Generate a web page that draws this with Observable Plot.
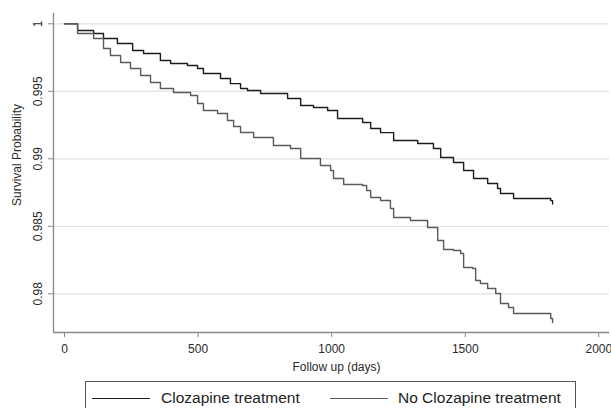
<!DOCTYPE html>
<html>
<head>
<meta charset="utf-8">
<script src="https://cdn.jsdelivr.net/npm/d3@7"></script>
<script src="https://cdn.jsdelivr.net/npm/@observablehq/plot@0.6"></script>
<style>
  html, body { margin: 0; padding: 0; background: #fff; }
  #wrap { position: relative; width: 611px; height: 408px; overflow: hidden; font-family: "Liberation Sans", Arial, sans-serif; }
  #chart svg { display: block; }
  #legend { position: absolute; left: 85px; top: 381px; width: 491px; height: 40px; border: 1px solid #555; box-sizing: border-box; }
  .sw { position: absolute; top: 16px; height: 0; border-top: 1.4px solid #222; }
  .lb { position: absolute; top: 6px; font-size: 15.5px; color: #222; line-height: 20px; white-space: nowrap; }
</style>
</head>
<body>
<div id="wrap">
  <div id="chart"></div>
  <div id="legend"></div>
</div>
<script>
const seriesNames = ["Clozapine treatment", "No Clozapine treatment"];
const seriesColors = ["#1c1c1c", "#5a5a5a"];

// Kaplan-Meier step points: [days, survival]
const clozapineDays = [0, 49, 109, 146, 198, 255, 296, 359, 397, 460, 498, 520, 584, 621, 659, 685, 734, 835, 884, 932, 985, 1022, 1116, 1146, 1183, 1232, 1322, 1381, 1408, 1456, 1494, 1531, 1584, 1621, 1632, 1681, 1820, 1827];
const clozapineSurv = [1.0, 0.9995, 0.99928, 0.99891, 0.99854, 0.99802, 0.9978, 0.99728, 0.99706, 0.99691, 0.99669, 0.99632, 0.99595, 0.99557, 0.99521, 0.99506, 0.99484, 0.99447, 0.99395, 0.9938, 0.99358, 0.99299, 0.99269, 0.99224, 0.99194, 0.99136, 0.99113, 0.99076, 0.9901, 0.98973, 0.98913, 0.98854, 0.98817, 0.9878, 0.98743, 0.98706, 0.98690, 0.98665];

const noClozapineDays = [0, 49, 109, 146, 172, 210, 247, 285, 322, 359, 408, 472, 498, 520, 573, 610, 633, 659, 708, 782, 846, 884, 958, 996, 1007, 1045, 1116, 1131, 1146, 1183, 1220, 1232, 1295, 1359, 1397, 1419, 1456, 1483, 1494, 1528, 1539, 1557, 1584, 1614, 1632, 1662, 1681, 1820, 1827];
const noClozapineSurv = [1.0, 0.99928, 0.99891, 0.99817, 0.99765, 0.99713, 0.99669, 0.99617, 0.99565, 0.99521, 0.99491, 0.99469, 0.9941, 0.99358, 0.99336, 0.99284, 0.99239, 0.99195, 0.99158, 0.99099, 0.99076, 0.99002, 0.9895, 0.98913, 0.98854, 0.9881, 0.98802, 0.98765, 0.98713, 0.98691, 0.98632, 0.98565, 0.98543, 0.98491, 0.98395, 0.98328, 0.98321, 0.98299, 0.98195, 0.98187, 0.98099, 0.98076, 0.98039, 0.98002, 0.97928, 0.97899, 0.97854, 0.97817, 0.97787];

const xTicks = [0, 500, 1000, 1500, 2000];
const xTickLabels = ["0", "500", "1000", "1500", "2000"];
const yTicks = [0.98, 0.985, 0.99, 0.995, 1];
const yTickLabels = ["0.98", "0.985", "0.99", "0.995", "1"];
const xTitle = "Follow up (days)";
const yTitle = "Survival Probability";

const xDomain = [-41.2, 2040];
const yDomain = [0.977133, 1.000763];

const rows = [
  ...clozapineDays.map((d, i) => ({series: seriesNames[0], day: d, surv: clozapineSurv[i]})),
  ...noClozapineDays.map((d, i) => ({series: seriesNames[1], day: d, surv: noClozapineSurv[i]}))
];

const axisColor = "#8a8a8a";
const textColor = "#2a2a2a";

const chart = Plot.plot({
  width: 611,
  height: 378,
  marginTop: 13,
  marginBottom: 46,
  marginLeft: 53,
  marginRight: 2,
  style: {fontFamily: "'Liberation Sans', Arial, sans-serif", fontSize: "12px", color: textColor, background: "#fff"},
  x: {domain: xDomain},
  y: {domain: yDomain},
  color: {domain: seriesNames, range: seriesColors},
  marks: [
    Plot.gridY(yTicks, {stroke: "#e2e2e2", strokeOpacity: 1, strokeWidth: 1.2}),
    Plot.axisX(xTicks, {tickSize: 5, tickPadding: 7, tickFormat: (d) => xTickLabels[xTicks.indexOf(d)], stroke: axisColor, fill: textColor, fontSize: 12, label: null}),
    Plot.axisY(yTicks, {tickSize: 5, tickFormat: null, text: null, stroke: axisColor, label: null}),
    Plot.text(yTicks, {frameAnchor: "left", y: d => d, text: (d) => yTickLabels[yTicks.indexOf(d)], rotate: -90, dx: -15, textAnchor: "middle", lineAnchor: "middle", fill: textColor, fontSize: 12}),
    Plot.text([yTitle], {frameAnchor: "left", text: d => d, rotate: -90, dx: -36, dy: -18, textAnchor: "middle", lineAnchor: "middle", fill: textColor, fontSize: 12}),
    Plot.text([xTitle], {frameAnchor: "bottom", text: d => d, dx: 5, dy: 35, textAnchor: "middle", lineAnchor: "middle", fill: textColor, fontSize: 12}),
    Plot.ruleX([xDomain[0]], {stroke: axisColor, strokeWidth: 1.3}),
    Plot.ruleY([yDomain[0]], {stroke: axisColor, strokeWidth: 1.3}),
    Plot.line(rows, {x: "day", y: "surv", z: "series", stroke: "series", curve: "step-after", strokeWidth: 1.4})
  ]
});
document.getElementById("chart").appendChild(chart);

const legend = document.getElementById("legend");
const swPos = [[6, 58, 75], [244, 58, 312]];
seriesNames.forEach((name, i) => {
  const sw = document.createElement("div");
  sw.className = "sw";
  sw.style.left = swPos[i][0] + "px";
  sw.style.width = swPos[i][1] + "px";
  sw.style.borderTopColor = seriesColors[i];
  legend.appendChild(sw);
  const lb = document.createElement("div");
  lb.className = "lb";
  lb.style.left = swPos[i][2] + "px";
  lb.textContent = name;
  legend.appendChild(lb);
});
</script>
</body>
</html>
